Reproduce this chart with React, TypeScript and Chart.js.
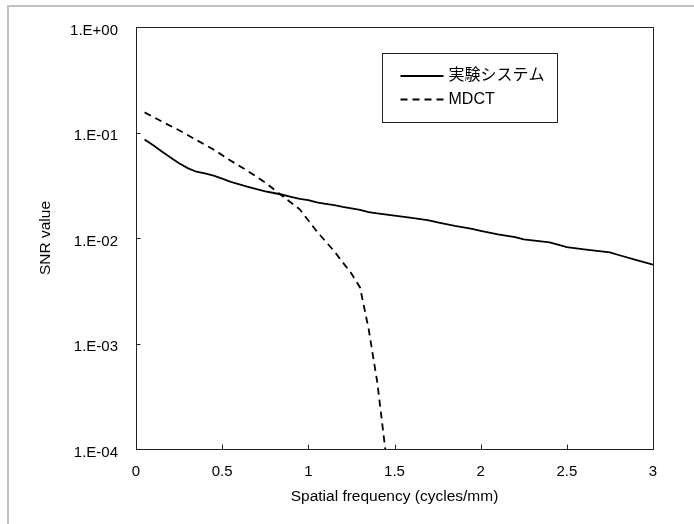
import React, { useEffect, useRef } from "react";
import { Chart, registerables } from "chart.js";

Chart.register(...registerables);

// ---- data ----
const seriesLabels = ["実験システム", "MDCT"];

const systemX = [
  0.05, 0.1, 0.15, 0.2, 0.25, 0.3, 0.35, 0.4, 0.45, 0.5, 0.55, 0.6, 0.65, 0.7,
  0.75, 0.8, 0.85, 0.9, 0.95, 1.0, 1.05, 1.1, 1.15, 1.2, 1.25, 1.3, 1.35, 1.4,
  1.5, 1.6, 1.7, 1.75, 1.85, 1.95, 2.0, 2.1, 2.2, 2.25, 2.4, 2.5, 2.6, 2.75,
  2.8, 2.9, 3.0,
];
const systemY = [
  0.086, 0.0757, 0.066, 0.058, 0.051, 0.046, 0.0425, 0.041, 0.039, 0.0365,
  0.034, 0.0322, 0.0305, 0.029, 0.0277, 0.0267, 0.0257, 0.0246, 0.0235, 0.0229,
  0.0218, 0.0211, 0.0205, 0.0197, 0.0191, 0.0185, 0.0176, 0.0171, 0.0163,
  0.0155, 0.0147, 0.0141, 0.013, 0.0122, 0.0117, 0.0108, 0.0102, 0.0097,
  0.0091, 0.0082, 0.0078, 0.0073, 0.0069, 0.0062, 0.0056,
];

const mdctX = [
  0.05, 0.15, 0.25, 0.35, 0.45, 0.55, 0.65, 0.75, 0.85, 0.95, 1.05, 1.15, 1.25,
  1.3, 1.35, 1.4, 1.45,
];
const mdctY = [
  0.155, 0.127, 0.105, 0.085, 0.069, 0.054, 0.043, 0.0335, 0.025, 0.0187,
  0.0115, 0.0075, 0.0046, 0.0034, 0.00137, 0.00043, 0.000089,
];

const xTicks = [0, 0.5, 1, 1.5, 2, 2.5, 3];
const yTicks = [1e-4, 1e-3, 1e-2, 1e-1, 1];
const yTickLabels = ["1.E-04", "1.E-03", "1.E-02", "1.E-01", "1.E+00"];
const xTitle = "Spatial frequency (cycles/mm)";
const yTitle = "SNR value";

const FONT = '"Liberation Sans", Arial, "Noto Sans CJK JP", sans-serif';
const LEGEND_FONT = '"Liberation Sans", "Noto Sans CJK JP", sans-serif';

const framePlugin = {
  id: "frameAndTicks",
  afterDatasetsDraw(chart: any) {
    const { ctx, chartArea } = chart;
    const xs = chart.scales.x;
    const ys = chart.scales.y;
    const l = Math.round(chartArea.left) + 0.5;
    const t = Math.round(chartArea.top) + 0.5;
    const r = Math.round(chartArea.right) + 0.5;
    const b = Math.round(chartArea.bottom) + 0.5;
    ctx.save();
    ctx.strokeStyle = "#222";
    ctx.lineWidth = 1;
    ctx.strokeRect(l, t, r - l, b - t);
    ctx.beginPath();
    xTicks.forEach((v) => {
      const px = Math.round(xs.getPixelForValue(v)) + 0.5;
      ctx.moveTo(px, b);
      ctx.lineTo(px, b - 5);
    });
    yTicks.forEach((v) => {
      const py = Math.round(ys.getPixelForValue(v)) + 0.5;
      ctx.moveTo(l, py);
      ctx.lineTo(l + 4, py);
    });
    ctx.stroke();
    ctx.restore();
  },
};

const legendPlugin = {
  id: "boxLegend",
  afterDraw(chart: any) {
    const { ctx, chartArea } = chart;
    const bx = Math.round(chartArea.left + 246) + 0.5;
    const by = Math.round(chartArea.top + 26) + 0.5;
    const bw = 175;
    const bh = 69;
    ctx.save();
    ctx.fillStyle = "#fff";
    ctx.fillRect(bx, by, bw, bh);
    ctx.strokeStyle = "#222";
    ctx.lineWidth = 1;
    ctx.strokeRect(bx, by, bw, bh);
    const rows = [22.5, 46];
    chart.data.datasets.forEach((ds: any, i: number) => {
      const y = by + rows[i];
      ctx.beginPath();
      ctx.strokeStyle = ds.borderColor;
      ctx.lineWidth = ds.borderWidth;
      ctx.setLineDash(ds.borderDash || []);
      ctx.moveTo(bx + 18, y);
      ctx.lineTo(bx + 61, y);
      ctx.stroke();
      ctx.setLineDash([]);
      ctx.fillStyle = "#000";
      ctx.font = `16px ${LEGEND_FONT}`;
      ctx.textBaseline = "middle";
      ctx.textAlign = "left";
      ctx.fillText(ds.label, bx + 66, y);
    });
    ctx.restore();
  },
};

export default function App() {
  const ref = useRef<HTMLCanvasElement | null>(null);

  useEffect(() => {
    if (!ref.current) return;
    const chart = new Chart(ref.current, {
      type: "line",
      data: {
        datasets: [
          {
            label: seriesLabels[0],
            data: systemX.map((x, i) => ({ x, y: systemY[i] })),
            borderColor: "#000",
            borderWidth: 1.8,
            pointRadius: 0,
            tension: 0,
            fill: false,
          },
          {
            label: seriesLabels[1],
            data: mdctX.map((x, i) => ({ x, y: mdctY[i] })),
            borderColor: "#000",
            borderWidth: 1.8,
            borderDash: [7, 5],
            pointRadius: 0,
            tension: 0,
            fill: false,
          },
        ],
      },
      options: {
        responsive: false,
        animation: false,
        devicePixelRatio: 1,
        layout: { padding: { left: 0, top: 16, right: 33, bottom: 0 } },
        plugins: {
          legend: { display: false },
          tooltip: { enabled: false },
        },
        scales: {
          x: {
            type: "linear",
            min: 0,
            max: 3,
            grid: { display: false },
            border: { display: false },
            afterBuildTicks: (scale: any) => {
              scale.ticks = xTicks.map((v) => ({ value: v }));
            },
            afterFit: (scale: any) => {
              scale.height = 75;
            },
            ticks: {
              autoSkip: false,
              maxRotation: 0,
              padding: 6,
              color: "#000",
              font: { family: FONT, size: 15 },
              callback: (v: any) => String(v),
            },
            title: {
              display: true,
              text: xTitle,
              color: "#000",
              font: { family: FONT, size: 15.5 },
              padding: { top: 0, bottom: 18 },
            },
          },
          y: {
            type: "logarithmic",
            min: 1e-4,
            max: 1,
            grid: { display: false },
            border: { display: false },
            afterBuildTicks: (scale: any) => {
              scale.ticks = yTicks.map((v) => ({ value: v }));
            },
            afterFit: (scale: any) => {
              scale.width = 128;
            },
            ticks: {
              autoSkip: false,
              padding: 10,
              labelOffset: 3.5,
              color: "#000",
              font: { family: FONT, size: 15 },
              callback: (v: any) => {
                const idx = yTicks.findIndex(
                  (t) => Math.abs(Math.log10(t) - Math.log10(v)) < 1e-6
                );
                return idx >= 0 ? yTickLabels[idx] : "";
              },
            },
            title: {
              display: true,
              text: yTitle,
              color: "#000",
              font: { family: FONT, size: 15.5 },
              padding: { top: 28, bottom: 0 },
            },
          },
        },
      },
      plugins: [framePlugin, legendPlugin],
    } as any);
    return () => chart.destroy();
  }, []);

  return (
    <div>
      <div
        style={{
          position: "absolute",
          left: 7,
          top: 5,
          width: 687,
          height: 519,
          borderTop: "2px solid #c0c0c0",
          borderLeft: "2px solid #c0c0c0",
          boxSizing: "border-box",
        }}
      />
      <canvas
        ref={ref}
        width={678}
        height={516}
        style={{
          position: "absolute",
          left: 8,
          top: 8,
          width: 678,
          height: 516,
          display: "block",
        }}
      />
    </div>
  );
}
